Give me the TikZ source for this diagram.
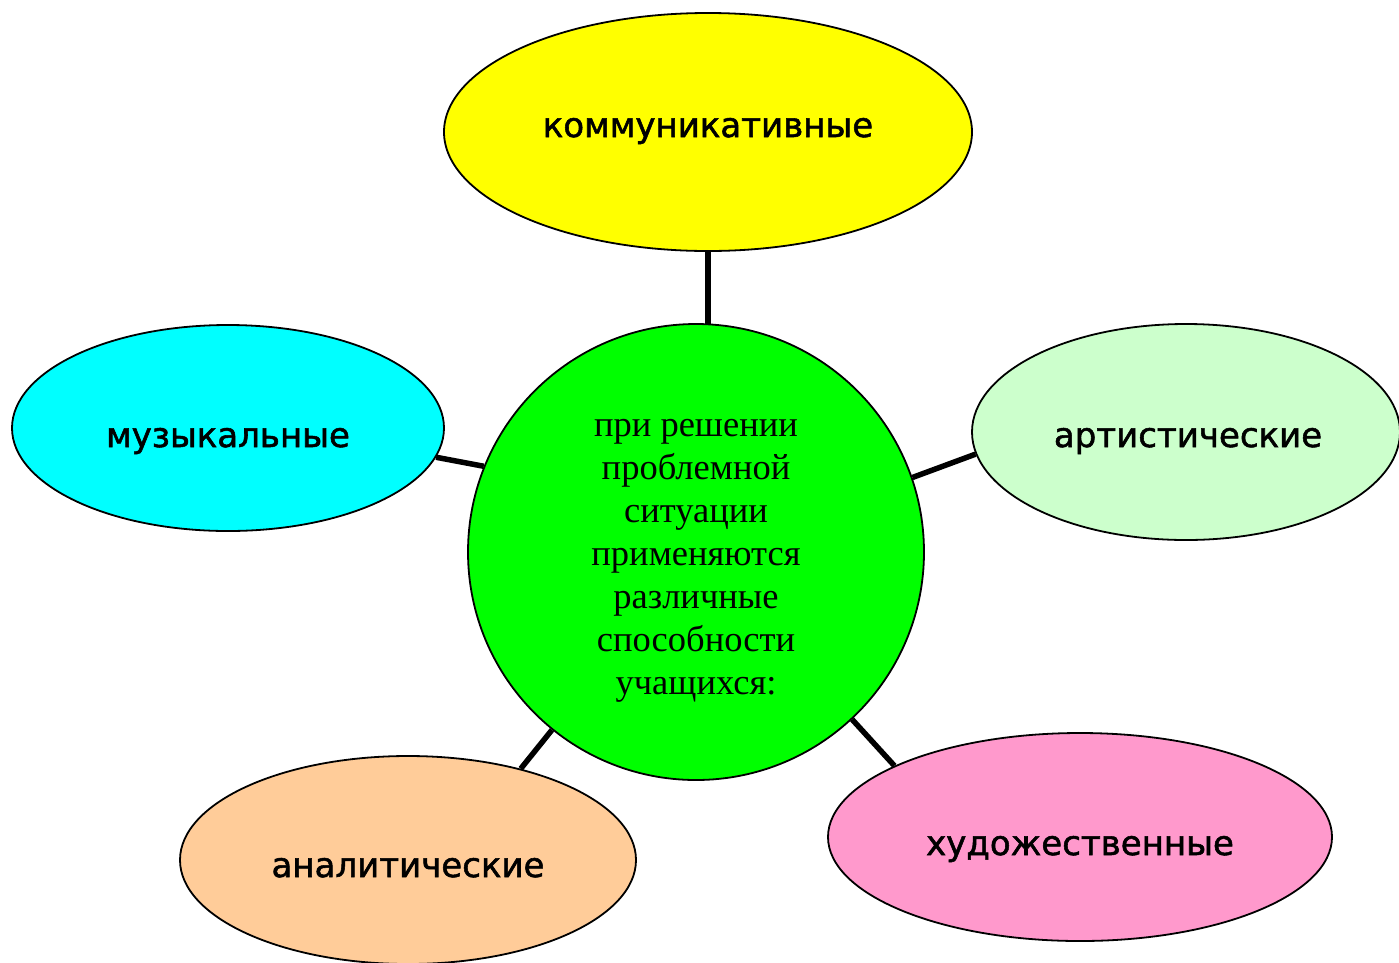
\documentclass[tikz,border=0pt]{standalone}
\usepackage{fontspec}
\setmainfont{Liberation Serif}
\newfontfamily\bubblefont[FakeBold=1.6]{DejaVu Sans}
\usetikzlibrary{shapes.geometric}
\definecolor{cyellow}{HTML}{FFFF00}
\definecolor{ccyan}{HTML}{00FFFF}
\definecolor{clgreen}{HTML}{CCFFCC}
\definecolor{corange}{HTML}{FFCC99}
\definecolor{cpink}{HTML}{FF99CC}
\definecolor{cgreen}{HTML}{00FF00}
\tikzset{
  bubble/.style={ellipse, draw=black, line width=1.8pt, inner sep=0pt},
  bubbletext/.style={anchor=base, inner sep=0pt,
    font=\bubblefont\fontsize{34}{40}\selectfont},
  hub/.style={circle, draw=black, line width=1.8pt, inner sep=0pt, fill=cgreen,
    minimum size=456pt},
  hubtext/.style={align=center, inner sep=0pt, font=\fontsize{36.5}{43}\selectfont},
  link/.style={line width=5.5pt, draw=black}
}
\begin{document}
\begin{tikzpicture}[x=1pt,y=-1pt]
\useasboundingbox (0,0) rectangle (1399,962);
\clip (0,0) rectangle (1399,962);
\fill[white] (0,0) rectangle (1399,962);
\node[hub] (c) at (696,552) {};
\node[hubtext] (ct) at (696,561) {при решении\\проблемной\\ситуации\\применяются\\различные\\способности\\учащихся:};
\node[bubble, fill=cyellow, minimum width=528pt, minimum height=238pt] (k) at (708,132) {};
\node[bubble, fill=ccyan, minimum width=432pt, minimum height=206pt] (m) at (228,428) {};
\node[bubble, fill=clgreen, minimum width=428pt, minimum height=216pt] (a) at (1186,432) {};
\node[bubble, fill=corange, minimum width=456pt, minimum height=208pt] (an) at (408,860) {};
\node[bubble, fill=cpink, minimum width=504pt, minimum height=208pt] (h) at (1080,837) {};
\node[bubbletext] (kt) at (708,137) {коммуникативные};
\node[bubbletext] (mt) at (228,447) {музыкальные};
\node[bubbletext] (at) at (1188,447) {артистические};
\node[bubbletext] (ant) at (408,877) {аналитические};
\node[bubbletext] (ht) at (1080,855) {художественные};
\coordinate (ktop) at (k.south |- c.north);
\draw[link] (k.south) -- ([yshift=-2pt]ktop);
\draw[link] (c.158) -- (m.352);
\draw[link] (c.19.4) -- (a.186.9);
\draw[link] (c.231) -- (an.39);
\draw[link] (c.313.9) -- (h.159.4);
\end{tikzpicture}
\end{document}
